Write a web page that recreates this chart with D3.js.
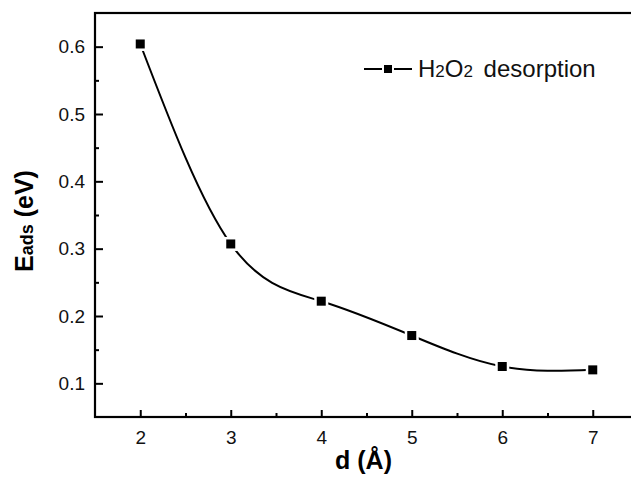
<!DOCTYPE html>
<html>
<head>
<meta charset="utf-8">
<script src="https://cdn.jsdelivr.net/npm/d3@7"></script>
<style>
  body { margin: 0; background: #fff; overflow: hidden; }
  svg { display: block; font-family: "Liberation Sans", Arial, sans-serif; }
</style>
</head>
<body>
<svg id="chart"></svg>
<script>
// distance (Angstrom) and adsorption energy (eV)
var distances = [2, 3, 4, 5, 6, 7];
var energies = [0.604, 0.307, 0.222, 0.171, 0.125, 0.120];
var xTicks = [2, 3, 4, 5, 6, 7];
var yTicks = [0.1, 0.2, 0.3, 0.4, 0.5, 0.6];

var outerWidth = 631;
var outerHeight = 477;
var margin = { left: 95, top: 13, right: -7, bottom: 60 };

var innerWidth = outerWidth - margin.left - margin.right;
var innerHeight = outerHeight - margin.top - margin.bottom;

var svg = d3.select("#chart")
    .attr("width", outerWidth)
    .attr("height", outerHeight);

var g = svg.append("g")
    .attr("transform", "translate(" + margin.left + "," + margin.top + ")");

var x = d3.scaleLinear().domain([1.5, 7.5]).range([0, innerWidth]);
var y = d3.scaleLinear().domain([0.05, 0.65]).range([innerHeight, 0]);

var data = distances.map(function (d, i) { return { x: d, y: energies[i] }; });

// minor ticks halfway between the majors
var xMinor = xTicks.map(function (d) { return d + 0.5; }).slice(0, -1);
var yMinor = yTicks.map(function (d) { return d + 0.05; }).slice(0, -1);

var xAxisG = g.append("g")
    .attr("transform", "translate(0," + innerHeight + ")");
xAxisG.call(d3.axisBottom(x).tickValues(xTicks).tickSizeInner(-7).tickSizeOuter(0).tickPadding(14).tickFormat(d3.format("d")));
var xMinorG = xAxisG.append("g").call(d3.axisBottom(x).tickValues(xMinor).tickSizeInner(-4).tickSizeOuter(0));
xMinorG.selectAll("text").remove();

var yAxisG = g.append("g");
yAxisG.call(d3.axisLeft(y).tickValues(yTicks).tickSizeInner(-8).tickSizeOuter(0).tickPadding(10).tickFormat(d3.format(".1f")));
var yMinorG = yAxisG.append("g").call(d3.axisLeft(y).tickValues(yMinor).tickSizeInner(-4).tickSizeOuter(0));
yMinorG.selectAll("text").remove();

g.selectAll(".domain").remove();
g.selectAll(".tick line").attr("stroke", "#000").attr("stroke-width", 2);
g.selectAll(".tick text")
    .attr("font-size", 19)
    .attr("font-family", "Liberation Sans, Arial, sans-serif")
    .attr("fill", "#111");

// frame
g.append("rect")
    .attr("x", 0)
    .attr("y", 0)
    .attr("width", innerWidth)
    .attr("height", innerHeight)
    .attr("fill", "none")
    .attr("stroke", "#000")
    .attr("stroke-width", 2.2);

var line = d3.line()
    .x(function (d) { return x(d.x); })
    .y(function (d) { return y(d.y); })
    .curve(d3.curveNatural);

g.append("path")
    .datum(data)
    .attr("d", line)
    .attr("fill", "none")
    .attr("stroke", "#000")
    .attr("stroke-width", 2);

var sq = 9;
g.selectAll(".pt")
    .data(data)
    .enter().append("rect")
    .attr("class", "pt")
    .attr("x", function (d) { return x(d.x) - sq / 2; })
    .attr("y", function (d) { return y(d.y) - sq / 2; })
    .attr("width", sq)
    .attr("height", sq)
    .attr("fill", "#000")
    .attr("stroke", "#fff")
    .attr("stroke-width", 5)
    .attr("paint-order", "stroke");

// legend
var leg = svg.append("g").attr("transform", "translate(364,69)");
leg.append("line").attr("x1", 0).attr("x2", 48).attr("stroke", "#000").attr("stroke-width", 2);
leg.append("rect").attr("x", 20).attr("y", -4).attr("width", 8).attr("height", 8)
    .attr("fill", "#000").attr("stroke", "#fff").attr("stroke-width", 4).attr("paint-order", "stroke");
var legText = leg.append("text")
    .attr("x", 54)
    .attr("y", 8)
    .attr("font-size", 24)
    .attr("fill", "#111");
legText.append("tspan").text("H");
legText.append("tspan").attr("font-size", 17).text("2");
legText.append("tspan").text("O");
legText.append("tspan").attr("font-size", 17).text("2");
legText.append("tspan").attr("dx", 4).text(" desorption");

// axis titles
svg.append("text")
    .attr("x", x(4.5) + margin.left - 3)
    .attr("y", 469)
    .attr("text-anchor", "middle")
    .attr("font-size", 25)
    .attr("font-weight", "bold")
    .text("d (Å)");

var yTitle = svg.append("text")
    .attr("transform", "translate(33,221) rotate(-90)")
    .attr("text-anchor", "middle")
    .attr("font-size", 25)
    .attr("font-weight", "bold");
yTitle.append("tspan").text("E");
yTitle.append("tspan").attr("font-size", 18).text("ads");
yTitle.append("tspan").text(" (eV)");
</script>
</body>
</html>
